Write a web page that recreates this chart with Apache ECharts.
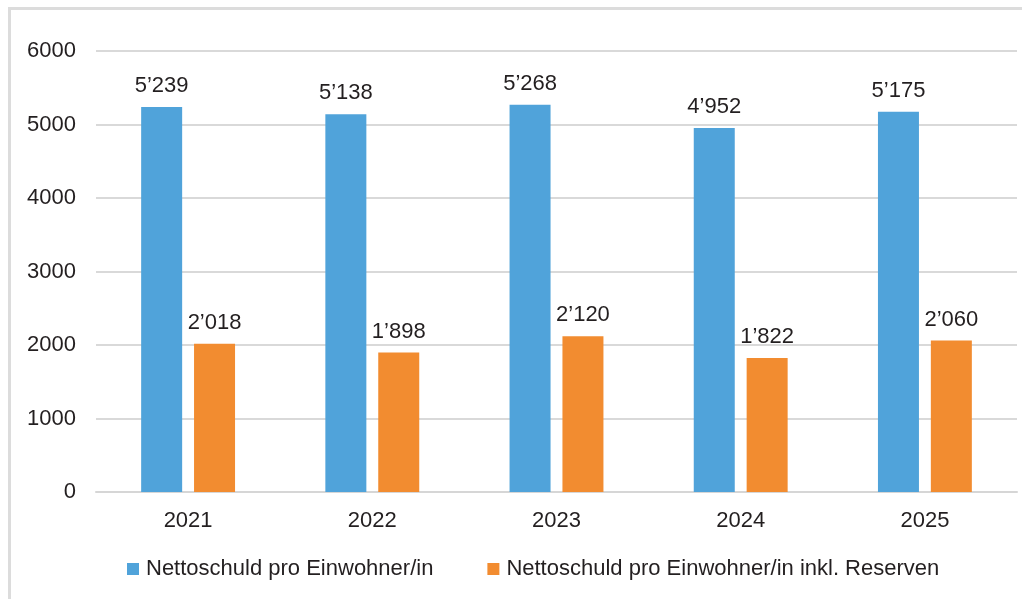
<!DOCTYPE html>
<html>
<head>
<meta charset="utf-8">
<script src="https://cdn.jsdelivr.net/npm/echarts@6/dist/echarts.min.js"></script>
<style>
  html, body { margin: 0; padding: 0; background: #fff; }
  #wrap { position: relative; width: 1022px; height: 599px; overflow: hidden; }
  #chart { width: 1022px; height: 599px; }
  #frame {
    position: absolute; left: 8px; top: 7px; width: 1030px; height: 620px;
    border: 3px solid #dcdcdc; box-sizing: border-box; pointer-events: none;
  }
</style>
</head>
<body>
<div id="wrap">
  <div id="chart"></div>
  <div id="frame"></div>
</div>
<script>
const years = ["2021", "2022", "2023", "2024", "2025"];
const netDebt = [5239, 5138, 5268, 4952, 5175];
const netDebtInclReserves = [2018, 1898, 2120, 1822, 2060];
const seriesNames = [
  "Nettoschuld pro Einwohner/in",
  "Nettoschuld pro Einwohner/in inkl. Reserven",
];

const textColor = "#231f20";
const fmt = (v) => {
  const s = String(v);
  return s.length > 3 ? s.slice(0, -3) + "\u2019" + s.slice(-3) : s;
};

const chart = echarts.init(document.getElementById("chart"));
const labelStyle = {
  show: true,
  position: "top",
  distance: 10,
  color: textColor,
  fontSize: 22,
  fontFamily: "Liberation Sans",
  formatter: (p) => fmt(p.value),
};

chart.setOption({
  animation: false,
  textStyle: { fontFamily: "Liberation Sans" },
  grid: { left: 96, right: 5, top: 51, bottom: 107 },
  xAxis: {
    type: "category",
    data: years,
    axisLine: { lineStyle: { color: "#d6d6d6", width: 2 } },
    axisTick: { show: false },
    axisLabel: { color: textColor, fontSize: 22, margin: 18 },
  },
  yAxis: {
    type: "value",
    min: 0,
    max: 6000,
    interval: 1000,
    axisLine: { show: false },
    axisTick: { show: false },
    axisLabel: { color: textColor, fontSize: 22, margin: 20, formatter: (v) => String(v) },
    splitLine: { lineStyle: { color: "#d9d9d9", width: 2 } },
  },
  legend: {
    left: 122,
    top: 553,
    icon: "rect",
    itemWidth: 12,
    itemHeight: 12,
    itemGap: 54,
    textStyle: { color: textColor, fontSize: 22, padding: [0, 0, 0, 2] },
    data: seriesNames,
  },
  series: [
    {
      name: seriesNames[0],
      type: "bar",
      data: netDebt,
      barWidth: 41,
      barGap: "29%",
      itemStyle: { color: "#50a3da" },
      label: labelStyle,
    },
    {
      name: seriesNames[1],
      type: "bar",
      data: netDebtInclReserves,
      barWidth: 41,
      itemStyle: { color: "#f28c30" },
      label: labelStyle,
    },
  ],
});
</script>
</body>
</html>
